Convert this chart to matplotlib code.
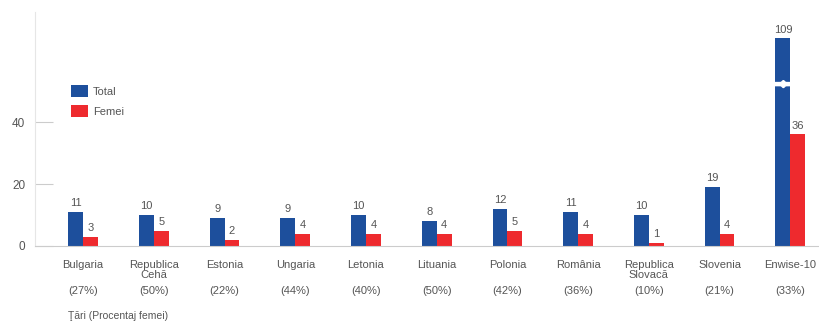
import matplotlib.pyplot as plt
import matplotlib.transforms as mtransforms
import numpy as np

plt.rcParams['font.family'] = ['Liberation Sans', 'DejaVu Sans']

# data
countries = ['Bulgaria', 'Republica\nCehă', 'Estonia', 'Ungaria', 'Letonia',
             'Lituania', 'Polonia', 'România', 'Republica\nSlovacă', 'Slovenia', 'Enwise-10']
pct_women = ['(27%)', '(50%)', '(22%)', '(44%)', '(40%)', '(50%)', '(42%)',
             '(36%)', '(10%)', '(21%)', '(33%)']
total = [11, 10, 9, 9, 10, 8, 12, 11, 10, 19, 109]
femei = [3, 5, 2, 4, 4, 4, 5, 4, 1, 4, 36]

BLUE = '#1d4f9c'
RED = '#ee2a2e'
GREY = '#555555'
CAP = 67  # truncated height for the broken bar

fig = plt.figure(figsize=(8.2, 3.22), dpi=100)
ax = fig.add_axes([35/820, 1-246/322, 1-35/820, 234/322])

x = np.arange(len(countries))
w = 0.21
tot_drawn = np.minimum(total, CAP)
ax.bar(x - w/2, tot_drawn, w, color=BLUE, label='Total')
ax.bar(x + w/2, femei, w, color=RED, label='Femei')

# break marks on truncated bars (white gap, notched in the middle)
for i, v in enumerate(total):
    if v > CAP:
        xs = np.linspace(i - w - 0.01, i + 0.005, 40)
        t = (xs - (i - w/2)) / w
        notch = 0.6*np.exp(-(t/0.1)**2)
        ax.fill_between(xs, 51.9 - notch, 52.9 + notch, color='white', zorder=3)

for i in range(len(x)):
    ax.text(x[i] - w/2, tot_drawn[i] + 1.2, str(total[i]), ha='center', va='bottom',
            fontsize=8, color=GREY)
    ax.text(x[i] + w/2, femei[i] + 1.2, str(femei[i]), ha='center', va='bottom',
            fontsize=8, color=GREY)

trans = mtransforms.blended_transform_factory(ax.transData, ax.transAxes)
for i in range(len(x)):
    ax.text(x[i], -0.06, countries[i], transform=trans, ha='center', va='top',
            fontsize=8, color=GREY, linespacing=0.95)
    ax.text(x[i], -0.17, pct_women[i], transform=trans, ha='center', va='top',
            fontsize=8, color=GREY)
fig.text(68/820, 1-316/322, 'Ţări (Procentaj femei)', ha='left', va='center',
         fontsize=7.5, color=GREY)

ax.set_xlim(-0.68, 10.42)
ax.set_ylim(0, 75.5)
ax.set_yticks([0, 20, 40])
ax.set_xticks([])
ax.tick_params(axis='y', direction='in', length=13, color='#cccccc',
               labelcolor=GREY, labelsize=8.5, pad=7)
for s in ['top', 'right']:
    ax.spines[s].set_visible(False)
ax.spines['left'].set_color('#e6e6e6')
ax.spines['left'].set_linewidth(0.8)
ax.spines['bottom'].set_color('#cccccc')
ax.spines['bottom'].set_linewidth(0.8)

ax.legend(loc='upper left', bbox_to_anchor=(0.033, 0.73), frameon=False,
          fontsize=8, handlelength=1.5, handleheight=1.3, labelcolor=GREY,
          labelspacing=0.7, handletextpad=0.5)

fig.savefig('out.png', dpi=100)
